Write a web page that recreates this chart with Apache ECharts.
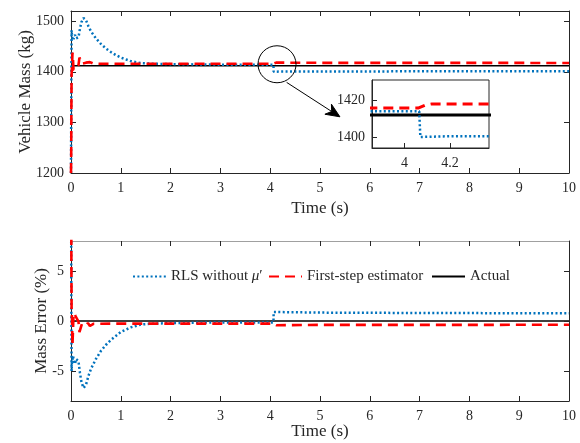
<!DOCTYPE html>
<html>
<head>
<meta charset="utf-8">
<title>Vehicle mass estimation</title>
<script src="https://cdn.jsdelivr.net/npm/echarts@6/dist/echarts.min.js"></script>
<style>
  html, body { margin: 0; padding: 0; background: #fff; }
  #chart { width: 580px; height: 443px; }
</style>
</head>
<body>
<div id="chart"></div>
<script>
// ---- Data ---------------------------------------------------------------
// Actual vehicle mass (kg)
const actualMass = 1412;

// RLS estimator without mu' : time (s) and estimated mass (kg)
const rlsTime = [0, 0.004, 0.008, 0.012, 0.02, 0.04, 0.06, 0.08, 0.1, 0.12, 0.15, 0.18, 0.21, 0.25,
  0.3, 0.35, 0.4, 0.5, 0.6, 0.7, 0.8, 0.9, 1.0, 1.2, 1.4, 1.6, 2.0, 2.5, 3.0, 3.5, 4.0, 4.065, 4.07,
  4.2, 5, 7, 10];
const rlsMass = [1200, 1300, 1420, 1482, 1470, 1462, 1468, 1473, 1466, 1463, 1468, 1485, 1498, 1506,
  1502, 1490, 1480, 1466, 1455, 1446, 1439, 1433, 1428, 1421, 1417, 1416, 1415, 1414.5, 1414, 1414,
  1414, 1414, 1400, 1400.4, 1400.6, 1400.8, 1401];

// First-step estimator: time (s) and estimated mass (kg)
const fseTime = [0, 0.004, 0.008, 0.012, 0.02, 0.03, 0.04, 0.05, 0.07, 0.09, 0.11, 0.13, 0.15, 0.17,
  0.19, 0.22, 0.26, 0.3, 0.34, 0.38, 0.45, 0.6, 1, 2, 3, 4.0, 4.06, 4.09, 4.12, 4.2, 5, 10];
const fseMass = [1200, 1230, 1330, 1395, 1408, 1438, 1425, 1404, 1401, 1405, 1407, 1404, 1413, 1428,
  1430, 1416, 1414, 1418, 1415, 1419, 1416, 1415.8, 1415.7, 1415.7, 1415.7, 1415.7, 1415.7, 1417.3,
  1418, 1418, 1417.6, 1417.4];

// Mass error (%) of each estimator
const rlsErrTime = [0, 0.004, 0.008, 0.012, 0.02, 0.04, 0.06, 0.08, 0.1, 0.12, 0.15, 0.18, 0.21, 0.25,
  0.3, 0.35, 0.4, 0.5, 0.6, 0.7, 0.8, 0.9, 1.0, 1.2, 1.4, 1.6, 2.0, 2.5, 3.0, 3.5, 4.0, 4.065, 4.07,
  5, 7, 10];
const rlsErr = [15, 7.9, -0.6, -5.0, -4.1, -3.5, -4.0, -4.3, -3.8, -3.6, -4.0, -5.2, -6.1, -6.7,
  -6.4, -5.5, -4.8, -3.8, -3.0, -2.4, -1.9, -1.5, -1.1, -0.64, -0.35, -0.28, -0.21, -0.18, -0.14,
  -0.14, -0.14, -0.14, 0.9, 0.84, 0.8, 0.77];

const fseErrTime = [0, 0.004, 0.008, 0.012, 0.02, 0.03, 0.04, 0.05, 0.07, 0.09, 0.11, 0.13, 0.15, 0.17,
  0.19, 0.22, 0.26, 0.3, 0.34, 0.38, 0.45, 0.6, 1, 2, 3, 4.0, 4.06, 4.09, 4.12, 5, 10];
const fseErr = [15, 12.9, 5.8, 1.2, 0.28, -2.4, -0.9, 0.57, 0.78, 0.5, 0.35, 0.57, -0.07, -1.1,
  -1.3, -0.28, -0.14, -0.42, -0.21, -0.5, -0.28, -0.27, -0.26, -0.26, -0.26, -0.26, -0.26, -0.37,
  -0.42, -0.39, -0.38];

const actualErr = 0;

// Axis ticks
const timeTicks = [0, 1, 2, 3, 4, 5, 6, 7, 8, 9, 10];
const massTicks = [1200, 1300, 1400, 1500];
const errTicks = [-5, 0, 5];
const zoomTimeTicks = [4, 4.2];
const zoomMassTicks = [1400, 1420];

// ---- Helpers ------------------------------------------------------------
const zip = (xs, ys) => xs.map((x, i) => [x, ys[i]]);
const FONT = "'Liberation Serif', 'Times New Roman', serif";
const INK = '#262626';
const BLUE = '#0072BD';
const RED = '#FF0000';

const blueStyle = { color: BLUE, width: 2.5, type: [2, 2.4], cap: 'butt' };
const redStyle = { color: RED, width: 2.6, type: [10, 6], cap: 'butt' };
const blackStyle = { color: '#000', width: 1.5, type: 'solid' };

function valueAxis(opts) {
  const o = {
    type: 'value',
    gridIndex: opts.grid,
    position: opts.position,
    min: opts.min,
    max: opts.max,
    z: opts.z || 3,
    axisLine: { show: true, onZero: false, lineStyle: { color: opts.lineColor || INK, width: 1 } },
    axisTick: {
      show: true, inside: true, length: 5,
      customValues: opts.ticks,
      lineStyle: { color: INK, width: 1 }
    },
    axisLabel: {
      show: !!opts.labels,
      customValues: opts.ticks,
      color: INK, fontSize: 14, fontFamily: FONT,
      margin: opts.labelMargin || 8,
      hideOverlap: false,
      formatter: v => String(v)
    },
    splitLine: { show: false }
  };
  if (opts.name) {
    o.name = opts.name;
    o.nameLocation = 'middle';
    o.nameGap = opts.nameGap;
    o.nameMoveOverlap = false;
    o.nameTextStyle = { color: INK, fontSize: 17, fontFamily: FONT };
  }
  return o;
}

function lineSeries(name, data, style, xi, yi, z) {
  return {
    type: 'line', name, data,
    xAxisIndex: xi, yAxisIndex: yi,
    symbol: 'none', showSymbol: false,
    lineStyle: style, itemStyle: { color: style.color },
    clip: true, z: z || 2, silent: true, animation: false
  };
}

// one legend entry: line sample followed by its text
function legendEntry(name, left, extra) {
  return Object.assign({
    data: [name], left, top: 269, padding: 0,
    itemWidth: 33, itemHeight: 14, itemGap: 0,
    itemStyle: { opacity: 0 },
    textStyle: { color: INK, fontSize: 15, fontFamily: FONT }
  }, extra || {});
}

const rlsMassData = zip(rlsTime, rlsMass);
const fseMassData = zip(fseTime, fseMass);
const actualMassData = [[0, actualMass], [10, actualMass]];

const chart = echarts.init(document.getElementById('chart'), null, { renderer: 'canvas' });

const option = {
  backgroundColor: '#fff',
  animation: false,
  grid: [
    { left: 71, top: 11, width: 498, height: 162, outerBoundsMode: 'none' },
    { left: 71, top: 241, width: 498, height: 160, outerBoundsMode: 'none' },
    { left: 372, top: 80, width: 117, height: 68, outerBoundsMode: 'none',
      show: true, backgroundColor: '#fff', borderColor: INK, borderWidth: 1, z: 5 }
  ],
  xAxis: [
    valueAxis({ grid: 0, position: 'bottom', min: 0, max: 10, ticks: timeTicks, labels: true,
      name: 'Time (s)', nameGap: 27 }),
    valueAxis({ grid: 0, position: 'top', min: 0, max: 10, ticks: timeTicks }),
    valueAxis({ grid: 1, position: 'bottom', min: 0, max: 10, ticks: timeTicks, labels: true,
      name: 'Time (s)', nameGap: 22 }),
    valueAxis({ grid: 1, position: 'top', min: 0, max: 10, ticks: timeTicks, lineColor: '#a0a0a0' }),
    valueAxis({ grid: 2, position: 'bottom', min: 3.858, max: 4.371, ticks: zoomTimeTicks, labels: true,
      z: 6 })
  ],
  yAxis: [
    valueAxis({ grid: 0, position: 'left', min: 1200, max: 1520, ticks: massTicks, labels: true,
      name: 'Vehicle Mass (kg)', nameGap: 37, labelMargin: 7 }),
    valueAxis({ grid: 0, position: 'right', min: 1200, max: 1520, ticks: massTicks }),
    valueAxis({ grid: 1, position: 'left', min: -8, max: 8, ticks: errTicks, labels: true,
      name: 'Mass Error (%)', nameGap: 21, labelMargin: 7 }),
    valueAxis({ grid: 1, position: 'right', min: -8, max: 8, ticks: errTicks }),
    valueAxis({ grid: 2, position: 'left', min: 1394, max: 1431, ticks: zoomMassTicks, labels: true,
      labelMargin: 7, z: 6 })
  ],
  legend: [
    legendEntry('RLS without \u03bc\u2032', 132, {
      formatter: () => '{t|RLS without }{i|\u03bc}{t|\u2032}',
      textStyle: { color: INK, fontSize: 15, fontFamily: FONT,
        rich: { i: { fontStyle: 'italic', fontSize: 15, fontFamily: FONT, color: INK },
                t: { fontSize: 15, fontFamily: FONT, color: INK } } }
    }),
    legendEntry('First-step estimator', 268),
    legendEntry('Actual', 431)
  ],
  series: [
    // main mass plot
    lineSeries('Actual', actualMassData, blackStyle, 0, 0, 2),
    lineSeries('RLS without \u03bc\u2032', rlsMassData, blueStyle, 0, 0, 3),
    lineSeries('First-step estimator', fseMassData, redStyle, 0, 0, 4),
    // mass error plot
    lineSeries('Actual', [[0, actualErr], [10, actualErr]], blackStyle, 2, 2, 2),
    lineSeries('RLS without \u03bc\u2032', zip(rlsErrTime, rlsErr), blueStyle, 2, 2, 3),
    lineSeries('First-step estimator', zip(fseErrTime, fseErr), redStyle, 2, 2, 4),
    // zoomed inset around t = 4 s
    lineSeries('Actual', actualMassData, Object.assign({}, blackStyle, { width: 3 }), 4, 4, 7),
    lineSeries('RLS without \u03bc\u2032', rlsMassData, blueStyle, 4, 4, 8),
    lineSeries('First-step estimator', fseMassData, Object.assign({}, redStyle, { width: 3 }), 4, 4, 9)
  ]
};

chart.setOption(option);

// ---- Annotation: circle around the step at t = 4 s and arrow to the inset ----
const circleCenter = [4.137, 1414.8];
const arrowFrom = [4.33, 1379];
const arrowTo = [5.40, 1311];

const c = chart.convertToPixel({ gridIndex: 0 }, circleCenter);
const a0 = chart.convertToPixel({ gridIndex: 0 }, arrowFrom);
const a1 = chart.convertToPixel({ gridIndex: 0 }, arrowTo);

const dx = a1[0] - a0[0], dy = a1[1] - a0[1];
const len = Math.hypot(dx, dy);
const ux = dx / len, uy = dy / len;
const headLen = 14, headHalf = 6;
const base = [a1[0] - ux * headLen, a1[1] - uy * headLen];
const notch = [a1[0] - ux * headLen * 0.7, a1[1] - uy * headLen * 0.7];

chart.setOption({
  graphic: [
    {
      type: 'ellipse', z: 20,
      shape: { cx: c[0], cy: c[1], rx: 19, ry: 18.5 },
      style: { fill: null, stroke: '#000', lineWidth: 1 }
    },
    {
      type: 'line', z: 20,
      shape: { x1: a0[0], y1: a0[1], x2: notch[0], y2: notch[1] },
      style: { stroke: '#000', lineWidth: 1 }
    },
    {
      type: 'polygon', z: 20,
      shape: {
        points: [
          a1,
          [base[0] - uy * headHalf, base[1] + ux * headHalf],
          notch,
          [base[0] + uy * headHalf, base[1] - ux * headHalf]
        ]
      },
      style: { fill: '#000', stroke: '#000', lineWidth: 1 }
    }
  ]
});
</script>
</body>
</html>
